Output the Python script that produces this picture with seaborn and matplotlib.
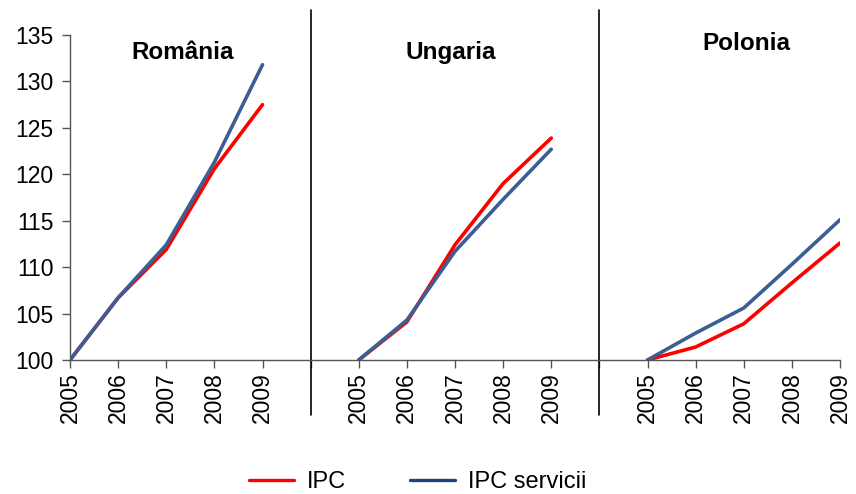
import matplotlib
matplotlib.use("Agg")
import matplotlib.pyplot as plt
import seaborn as sns
import pandas as pd
from matplotlib.lines import Line2D

years = ["2005", "2006", "2007", "2008", "2009"]
countries = ["România", "Ungaria", "Polonia"]
ipc = {
    "România": [100, 106.7, 111.9, 120.6, 127.5],
    "Ungaria": [100, 104.1, 112.4, 119.0, 123.9],
    "Polonia": [100, 101.4, 103.9, 108.3, 112.6],
}
ipc_servicii = {
    "România": [100, 106.7, 112.4, 121.3, 131.8],
    "Ungaria": [100, 104.3, 111.7, 117.3, 122.7],
    "Polonia": [100, 102.9, 105.6, 110.3, 115.1],
}
series_names = ["IPC", "IPC servicii"]
colors = {"IPC": "#FF0000", "IPC servicii": "#3B5E94"}
legend_colors = {"IPC": "#FF0000", "IPC servicii": "#1F4180"}

sns.set_theme(style="white")
plt.rcParams["font.family"] = ["Liberation Sans", "DejaVu Sans"]
plt.rcParams["text.color"] = "black"

rows = []
for ci, c in enumerate(countries):
    for yi, y in enumerate(years):
        pos = ci * 6 + yi
        rows.append({"pos": pos, "value": ipc[c][yi], "serie": "IPC", "tara": c})
        rows.append({"pos": pos, "value": ipc_servicii[c][yi], "serie": "IPC servicii", "tara": c})
df = pd.DataFrame(rows)

fig = plt.figure(figsize=(8.56, 4.94), dpi=100)
ax = fig.add_axes([70/856, 1-360/494, 770/856, 325/494])

sns.lineplot(data=df, x="pos", y="value", hue="serie", units="tara", estimator=None,
             palette=colors, hue_order=series_names, linewidth=2.6, ax=ax, legend=False,
             sort=True)

ax.set_xlim(0, 16)
ax.set_ylim(100, 135)
ax.set_yticks(range(100, 136, 5))
ticks = list(range(0, 17))
labels = []
for t in ticks:
    if t % 6 == 5:
        labels.append("")
    else:
        labels.append(years[t % 6])
ax.set_xticks(ticks)
ax.set_xticklabels(labels, rotation=90)
ax.tick_params(axis="both", labelsize=16.5, length=6, width=1, color="#555555",
               direction="out", bottom=True, left=True, labelcolor="black")
ax.tick_params(axis="y", pad=6)
ax.tick_params(axis="x", pad=3)
ax.set_xlabel("")
ax.set_ylabel("")
for s in ["top", "right"]:
    ax.spines[s].set_visible(False)
for s in ["left", "bottom"]:
    ax.spines[s].set_color("#555555")
    ax.spines[s].set_linewidth(1)

for xs in [5, 11]:
    ax.axvline(xs, ymin=-0.169, ymax=1.077, color="black", linewidth=1.2, clip_on=False)

title_pos = [(2.33, 133.1), (7.92, 133.1), (14.05, 134.1)]
for c, (tx, ty) in zip(countries, title_pos):
    ax.text(tx, ty, c, ha="center", va="center", fontsize=17.5, fontweight="bold",
            color="black")

handles = [Line2D([0], [0], color=legend_colors[s], linewidth=2.4) for s in series_names]
leg = fig.legend(handles, series_names, loc="center", bbox_to_anchor=(0.488, 0.024), ncol=2,
                 frameon=False, fontsize=17, handlelength=1.9, columnspacing=2.7,
                 handletextpad=0.55)
for t in leg.get_texts():
    t.set_color("black")

fig.savefig("out.png", dpi=100)
